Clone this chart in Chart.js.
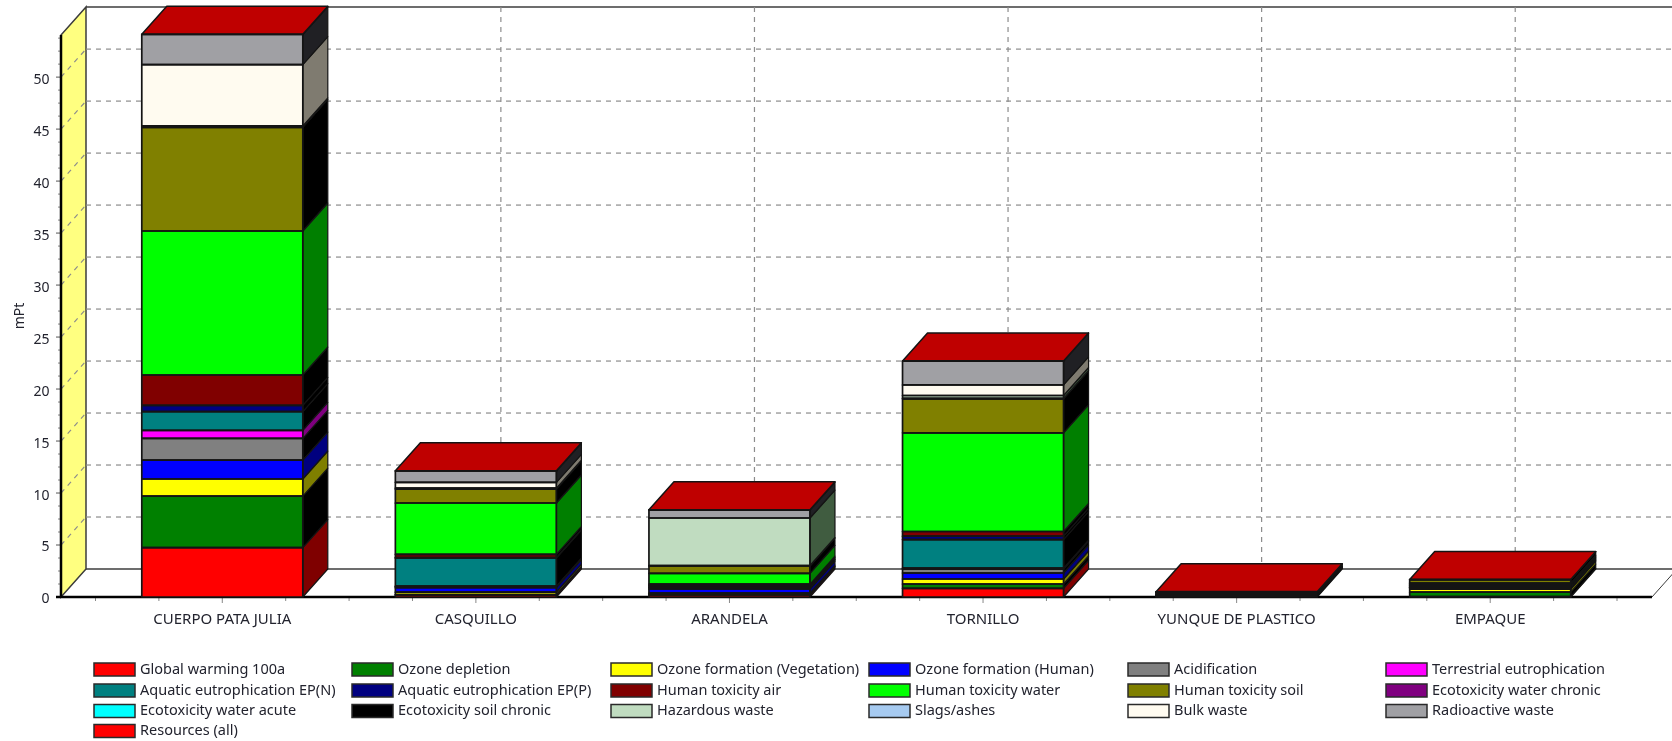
<!DOCTYPE html>
<html>
<head>
<meta charset="utf-8">
<title>mPt per component</title>
<script src="https://cdn.jsdelivr.net/npm/chart.js@4"></script>
<style>
  html, body { margin: 0; padding: 0; background: #fff; }
  #wrap { position: relative; width: 1672px; height: 741px; overflow: hidden; }
</style>
</head>
<body>
<div id="wrap"><canvas id="impactChart" width="1672" height="741"></canvas></div>
<script>
const components = ['CUERPO PATA JULIA', 'CASQUILLO', 'ARANDELA', 'TORNILLO', 'YUNQUE DE PLASTICO', 'EMPAQUE'];
const yTickStep = 5;

const globalWarming    = [4.74, 0.20, 0.20, 0.83, 0.08, 0.03];
const ozoneDepletion   = [4.97, 0.04, 0.06, 0.42, 0.02, 0.43];
const ozoneVegetation  = [1.64, 0.22, 0.11, 0.48, 0.02, 0.30];
const ozoneHuman       = [1.82, 0.44, 0.40, 0.58, 0.03, 0.08];
const acidification    = [2.09, 0.10, 0.12, 0.38, 0.03, 0.10];
const terrestrialEutro = [0.77, 0.05, 0.05, 0.08, 0.01, 0.06];
const aquaticEutroN    = [1.79, 2.70, 0.12, 2.75, 0.05, 0.10];
const aquaticEutroP    = [0.61, 0.05, 0.06, 0.33, 0.02, 0.08];
const toxicityAir      = [2.92, 0.30, 0.12, 0.45, 0.02, 0.08];
const toxicityWater    = [13.85, 4.94, 1.04, 9.49, 0.10, 0.08];
const toxicitySoil     = [9.96, 1.34, 0.70, 3.27, 0.05, 0.32];
const ecoWaterAcute    = [0, 0, 0, 0, 0, 0];
const ecoWaterChronic  = [0, 0, 0, 0, 0, 0];
const ecoSoilChronic   = [0.15, 0.10, 0.05, 0.05, 0.01, 0.01];
const hazardousWaste   = [0, 0, 4.57, 0.27, 0, 0];
const slagsAshes       = [0, 0, 0, 0, 0, 0];
const bulkWaste        = [5.90, 0.55, 0, 1.02, 0.03, 0];
const radioactiveWaste = [2.89, 1.09, 0.76, 2.28, 0.03, 0];
const resources        = [0.02, 0.02, 0.02, 0.02, 0.01, 0.01];

const seriesNames = [
  'Global warming 100a', 'Ozone depletion', 'Ozone formation (Vegetation)', 'Ozone formation (Human)',
  'Acidification', 'Terrestrial eutrophication', 'Aquatic eutrophication EP(N)', 'Aquatic eutrophication EP(P)',
  'Human toxicity air', 'Human toxicity water', 'Human toxicity soil', 'Ecotoxicity water chronic',
  'Ecotoxicity water acute', 'Ecotoxicity soil chronic', 'Hazardous waste', 'Slags/ashes',
  'Bulk waste', 'Radioactive waste', 'Resources (all)'
];
const seriesValues = [
  globalWarming, ozoneDepletion, ozoneVegetation, ozoneHuman, acidification, terrestrialEutro,
  aquaticEutroN, aquaticEutroP, toxicityAir, toxicityWater, toxicitySoil, ecoWaterChronic,
  ecoWaterAcute, ecoSoilChronic, hazardousWaste, slagsAshes, bulkWaste, radioactiveWaste, resources
];
const seriesColors = [
  '#ff0000', '#008000', '#ffff00', '#0000ff', '#808080', '#ff00ff', '#008080', '#000080',
  '#800000', '#00ff00', '#808000', '#800080', '#00ffff', '#000000', '#c0dcc0', '#a6caf0',
  '#fffbf0', '#a0a0a4', '#ff0000'
];

const FONT = '"Noto Sans"';
const TEXT_COLOR = '#22232e';
const EDGE_COLOR = '#141414';
const DEPTH_X = 25;
const DEPTH_Y = 28;
const AXIS_LEFT = 61;
const AXIS_RIGHT = 1652;

// darken a #rrggbb colour by taking a fixed amount off every channel
function shade(hex, amount) {
  const n = parseInt(hex.slice(1), 16);
  const part = function(v) { return Math.max(0, v - amount); };
  return 'rgb(' + part((n >> 16) & 255) + ',' + part((n >> 8) & 255) + ',' + part(n & 255) + ')';
}

function poly(ctx, pts, fill, stroke, width) {
  ctx.beginPath();
  pts.forEach(function(p, i) {
    if (i === 0) ctx.moveTo(p[0], p[1]); else ctx.lineTo(p[0], p[1]);
  });
  ctx.closePath();
  if (fill) { ctx.fillStyle = fill; ctx.fill(); }
  if (stroke) { ctx.strokeStyle = stroke; ctx.lineWidth = width; ctx.stroke(); }
}

function line(ctx, x1, y1, x2, y2, color, width, dash) {
  ctx.beginPath();
  ctx.setLineDash(dash || []);
  ctx.moveTo(x1, y1);
  ctx.lineTo(x2, y2);
  ctx.strokeStyle = color;
  ctx.lineWidth = width;
  ctx.stroke();
  ctx.setLineDash([]);
}

// left wall, floor, back wall grid and the axis lines with their tick marks
const boxPlugin = {
  id: 'box3d',
  beforeDatasetsDraw: function(chart) {
    const ctx = chart.ctx;
    const xs = chart.scales.x;
    const ys = chart.scales.y;
    const top = ys.top;
    const bottom = ys.bottom;
    const pitch = xs.getPixelForValue(1) - xs.getPixelForValue(0);
    ctx.save();

    poly(ctx, [[AXIS_LEFT, bottom], [AXIS_LEFT + DEPTH_X, bottom - DEPTH_Y], [AXIS_LEFT + DEPTH_X, top - DEPTH_Y], [AXIS_LEFT, top]],
      '#ffff80', '#3c3c3c', 1.5);

    // floor outline
    line(ctx, AXIS_LEFT + DEPTH_X, bottom - DEPTH_Y, AXIS_RIGHT + DEPTH_X, bottom - DEPTH_Y, '#3c3c3c', 1.5);
    line(ctx, AXIS_RIGHT, bottom, AXIS_RIGHT + DEPTH_X, bottom - DEPTH_Y, '#3c3c3c', 1);
    // top of the back wall
    line(ctx, AXIS_LEFT + DEPTH_X, top - DEPTH_Y, AXIS_RIGHT + DEPTH_X, top - DEPTH_Y, '#3c3c3c', 1.5);

    // horizontal grid, running across the wall and the back
    for (let v = yTickStep; v <= ys.max; v += yTickStep) {
      const py = ys.getPixelForValue(v);
      line(ctx, AXIS_LEFT, py, AXIS_LEFT + DEPTH_X, py - DEPTH_Y, '#8c8c8c', 1.2, [5, 5]);
      line(ctx, AXIS_LEFT + DEPTH_X, py - DEPTH_Y, AXIS_RIGHT + DEPTH_X, py - DEPTH_Y, '#8c8c8c', 1.2, [5, 5]);
    }
    // vertical grid at every component
    components.forEach(function(name, i) {
      const px = xs.getPixelForValue(i) + DEPTH_X;
      line(ctx, px, top - DEPTH_Y, px, bottom - DEPTH_Y, '#8c8c8c', 1.2, [5, 5]);
    });

    // y axis and its ticks
    for (let v = 0; v <= ys.max; v += yTickStep / 4) {
      const py = ys.getPixelForValue(v);
      const major = v % yTickStep === 0;
      line(ctx, major ? AXIS_LEFT - 5 : AXIS_LEFT - 3, py, AXIS_LEFT, py, major ? '#555' : '#888', 1);
    }
    line(ctx, AXIS_LEFT, top, AXIS_LEFT, bottom + 1, '#000', 2.5);

    // x axis and its ticks, four to a component
    for (let k = 0; k <= components.length * 4; k++) {
      const px = xs.getPixelForValue(0) - pitch / 2 + k * pitch / 4;
      const major = k % 4 === 2;
      line(ctx, px, bottom, px, bottom + (major ? 6 : 4), '#888', 1);
    }
    line(ctx, AXIS_LEFT - 5, bottom, AXIS_RIGHT, bottom, '#000', 2.5);
    ctx.restore();
  },

  // side and top faces of each stack, worked out from the bar elements,
  // then the pen round every front segment so very thin ones read as dark bands
  afterDatasetsDraw: function(chart) {
    const ctx = chart.ctx;
    const metas = chart.getSortedVisibleDatasetMetas();
    ctx.save();
    ctx.lineJoin = 'round';
    components.forEach(function(name, c) {
      let topBar = null;
      metas.forEach(function(meta, s) {
        if (!seriesValues[s][c]) return;
        const bar = meta.data[c];
        const right = bar.x + bar.width / 2;
        poly(ctx, [[right, bar.base], [right + DEPTH_X, bar.base - DEPTH_Y], [right + DEPTH_X, bar.y - DEPTH_Y], [right, bar.y]],
          shade(seriesColors[s], 128), EDGE_COLOR, 1.2);
        topBar = { bar: bar, color: seriesColors[s] };
      });
      const b = topBar.bar;
      const l = b.x - b.width / 2;
      const r = b.x + b.width / 2;
      poly(ctx, [[l, b.y], [l + DEPTH_X, b.y - DEPTH_Y], [r + DEPTH_X, b.y - DEPTH_Y], [r, b.y]],
        shade(topBar.color, 64), EDGE_COLOR, 1.5);
      metas.forEach(function(meta, s) {
        if (!seriesValues[s][c]) return;
        const bar = meta.data[c];
        ctx.strokeStyle = EDGE_COLOR;
        ctx.lineWidth = 1.7;
        ctx.strokeRect(bar.x - bar.width / 2, bar.y, bar.width, bar.base - bar.y);
      });
    });
    ctx.restore();
  },

  // six-column legend under the plot
  afterDraw: function(chart) {
    const ctx = chart.ctx;
    const colX = [94, 352, 611, 869, 1128, 1386];
    const rowY = [669.5, 690.5, 711, 731];
    ctx.save();
    ctx.font = '14.5px ' + FONT;
    ctx.textBaseline = 'middle';
    ctx.textAlign = 'left';
    seriesNames.forEach(function(name, i) {
      const x = colX[i % 6];
      const y = rowY[Math.floor(i / 6)];
      ctx.fillStyle = seriesColors[i];
      ctx.fillRect(x, y - 6.5, 41, 13);
      ctx.strokeStyle = '#2a2a2a';
      ctx.lineWidth = 1.5;
      ctx.strokeRect(x, y - 6.5, 41, 13);
      ctx.fillStyle = TEXT_COLOR;
      ctx.fillText(name, x + 46, y);
    });
    ctx.restore();
  }
};

const chart = new Chart(document.getElementById('impactChart').getContext('2d'), {
  type: 'bar',
  data: {
    labels: components,
    datasets: seriesNames.map(function(name, s) {
      return {
        label: name,
        data: seriesValues[s],
        backgroundColor: seriesColors[s],
        borderWidth: 0,
        categoryPercentage: 1,
        barPercentage: 0.635
      };
    })
  },
  options: {
    responsive: false,
    animation: false,
    layout: { padding: { left: 0, right: 55, top: 35, bottom: 0 } },
    plugins: { legend: { display: false }, tooltip: { enabled: false } },
    scales: {
      x: {
        stacked: true,
        grid: { display: false, drawTicks: false },
        border: { display: false },
        ticks: {
          padding: 14, autoSkip: false, maxRotation: 0,
          color: TEXT_COLOR, font: { family: FONT, size: 15 }
        },
        afterFit: function(scale) { scale.height = 144; }
      },
      y: {
        stacked: true,
        min: 0,
        max: 54.05,
        grid: { display: false, drawTicks: false },
        border: { display: false },
        title: {
          display: true, text: 'mPt', color: TEXT_COLOR,
          font: { family: FONT, size: 14 }, padding: { top: 12, bottom: 0 }
        },
        ticks: {
          stepSize: yTickStep, includeBounds: false, padding: 46, labelOffset: 2.5,
          color: TEXT_COLOR, font: { family: FONT, size: 14 }
        },
        afterFit: function(scale) {
          // the wide tick padding would otherwise push the plot area down
          scale.width = 95.5;
          scale.paddingTop = 0;
          scale.paddingBottom = 0;
        }
      }
    }
  },
  plugins: [boxPlugin]
});
</script>
</body>
</html>
